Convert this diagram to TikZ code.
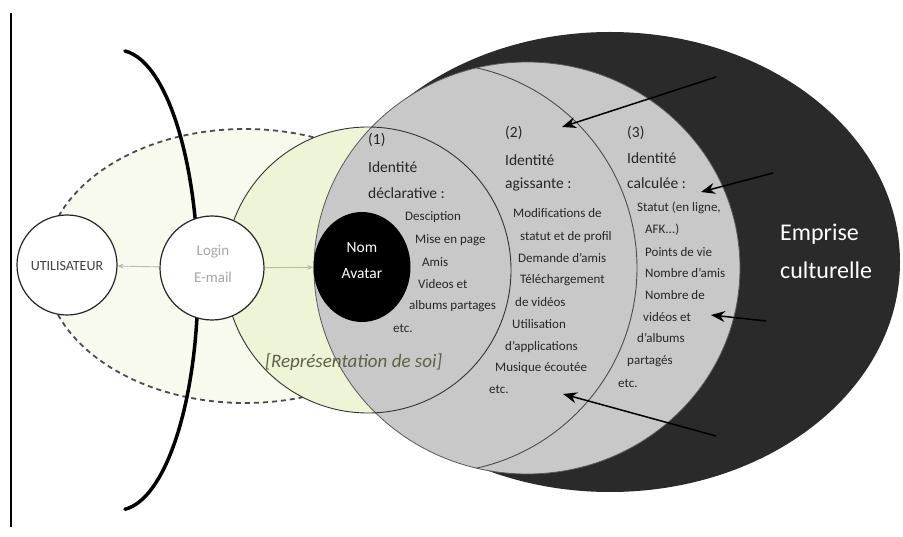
\documentclass[tikz,border=0pt]{standalone}
\usepackage{fontspec}
\setmainfont{Carlito}
\usepackage{xcolor}
\usetikzlibrary{arrows.meta, shapes.geometric}
\definecolor{paleGreen}{HTML}{EEF4D6}
\definecolor{mistGreen}{HTML}{F7FAEC}
\definecolor{idGray}{HTML}{C8C8C8}
\definecolor{cultDark}{HTML}{2A2A2A}
\definecolor{soiText}{HTML}{5E6144}
\tikzstyle{pointer} = [line width=1.5pt,-{Stealth[length=14pt,width=11pt]}]
\tikzstyle{faint} = [line width=0.9pt,color=gray!55,-{Stealth[length=6pt,width=5pt]}]
\tikzset{
  entry/.style={anchor=west, inner sep=0pt, text=black!85, font=\fontsize{13}{15}\selectfont},
  title/.style={entry, font=\fontsize{15.5}{17}\selectfont},
  ring/.style={circle, draw=black!85, line width=1.2pt, fill=white, minimum size=100pt, inner sep=0pt}
}

\begin{document}
\begin{tikzpicture}[x=1pt, y=-1pt]
		\useasboundingbox (0,0) rectangle (903,537);
		\fill[white] (0,0) rectangle (903,537);

		% zone de l'utilisateur
		\draw[black!70, line width=1.8pt, dash pattern=on 5pt off 4pt, fill=mistGreen] (245,266) ellipse [x radius=200pt, y radius=137pt];

		% emprise culturelle
		\fill[cultDark] (610,262) ellipse [x radius=290pt, y radius=230pt];

		% representation de soi
		\fill[paleGreen] (368,270) circle [radius=143pt];

		% identites
		\draw[black!65, line width=0.8pt, fill=idGray] (527,268) ellipse [x radius=213pt, y radius=206pt];
		\begin{scope}
			\clip (527,268) ellipse [x radius=213pt, y radius=206pt];
			\draw[black!70, line width=0.9pt] (432,268) circle [radius=205pt];
		\end{scope}
		\draw[black!80, line width=0.9pt] (368,270) circle [radius=143pt];

		\node[anchor=west, inner sep=0pt, text=soiText, font=\fontsize{19}{21}\selectfont\itshape] (soi) at (265,362) {[Représentation de soi]};

		% separation et cadre
		\draw[line width=3.5pt, line cap=round] (125,51) arc [start angle=85, end angle=-85, x radius=80pt, y radius=230pt];
		\draw[line width=1.5pt] (11,13) -- (11,527);

		% noeuds
		\node[ring, minimum size=100pt] (user) at (67,265) {};
		\node[text=black!75, font=\fontsize{14}{16}\selectfont] (userlbl) at (67,266) {UTILISATEUR};
		\node[ring, minimum size=104pt] (login) at (212,268) {};
		\node[text=gray!70, font=\fontsize{15}{27}\selectfont, align=center] (loginlbl) at (213,264) {Login\\E-mail};
		\node[ellipse, fill=black, minimum width=97pt, minimum height=110pt, inner sep=0pt] (avatar) at (362,267) {};
		\node[text=white, font=\fontsize{15.5}{26}\selectfont, align=center] (avatarlbl) at (362,261) {Nom\\Avatar};

		\draw[faint] (login) -- (user);
		\draw[faint] (login) -- (avatar);

		% (1) identite declarative
		\node[title] (t1a) at (368,140) {(1)};
		\node[title] (t1b) at (368,167) {Identité};
		\node[title] (t1c) at (368,193) {déclarative :};
		\node[entry] (d1) at (405,217) {Desciption};
		\node[entry] (d2) at (415,240) {Mise en page};
		\node[entry] (d3) at (422,262) {Amis};
		\node[entry] (d4) at (418,284) {Videos et};
		\node[entry] (d5) at (409,306) {albums partages};
		\node[entry] (d6) at (393,328) {etc.};

		% (2) identite agissante
		\node[title] (t2a) at (505,133) {(2)};
		\node[title] (t2b) at (505,160) {Identité};
		\node[title] (t2c) at (505,185) {agissante :};
		\node[entry] (g1) at (513,213) {Modifications de};
		\node[entry] (g2) at (520,237) {statut et de profil};
		\node[entry] (g3) at (518,258) {Demande d'amis};
		\node[entry] (g4) at (520,280) {Téléchargement};
		\node[entry] (g5) at (515,302) {de vidéos};
		\node[entry] (g6) at (512,324) {Utilisation};
		\node[entry] (g7) at (505,347) {d'applications};
		\node[entry] (g8) at (495,368) {Musique écoutée};
		\node[entry] (g9) at (489,389) {etc.};

		% (3) identite calculee
		\node[title] (t3a) at (627,133) {(3)};
		\node[title] (t3b) at (627,158) {Identité};
		\node[title] (t3c) at (627,183) {calculée :};
		\node[entry] (c1) at (637,208) {Statut (en ligne,};
		\node[entry] (c2) at (645,230) {AFK...)};
		\node[entry] (c3) at (645,252) {Points de vie};
		\node[entry] (c4) at (645,273) {Nombre d'amis};
		\node[entry] (c5) at (645,295) {Nombre de};
		\node[entry] (c6) at (643,317) {vidéos et};
		\node[entry] (c7) at (637,338) {d'albums};
		\node[entry] (c8) at (627,361) {partagés};
		\node[entry] (c9) at (618,383) {etc.};

		% emprise
		\node[anchor=west, inner sep=0pt, text=white, font=\fontsize{24}{26}\selectfont] (emp1) at (780,234) {Emprise};
		\node[anchor=west, inner sep=0pt, text=white, font=\fontsize{24}{26}\selectfont] (emp2) at (780,270) {culturelle};

		% fleches
		\coordinate (f1s) at (716,77);
		\coordinate (f1e) at (562,127);
		\coordinate (f2s) at (773,173);
		\coordinate (f2e) at (701,192);
		\coordinate (f3s) at (766,321);
		\coordinate (f3e) at (711,315);
		\coordinate (f4s) at (716,436);
		\coordinate (f4e) at (563,394);
		\draw[pointer] (f1s) -- (f1e);
		\draw[pointer] (f2s) -- (f2e);
		\draw[pointer] (f3s) -- (f3e);
		\draw[pointer] (f4s) -- (f4e);
	\end{tikzpicture}
\end{document}
